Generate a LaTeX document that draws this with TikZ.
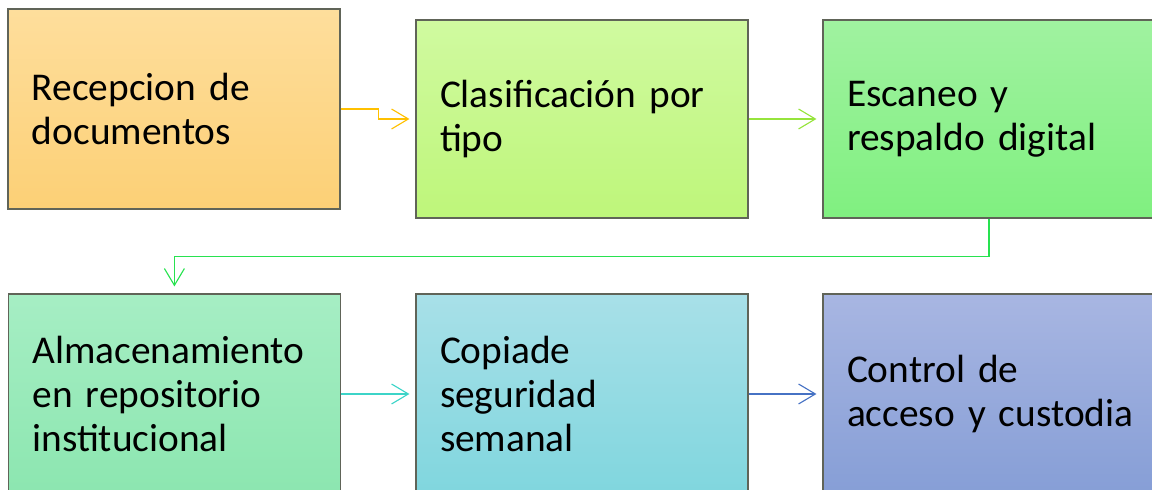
\documentclass[tikz,border=0pt]{standalone}
\usepackage{fontspec}
\setmainfont[WordSpace=0.85]{Carlito}
\definecolor{recpTop}{RGB}{254, 222, 156}
\definecolor{recpBot}{RGB}{252, 208, 118}
\definecolor{clasTop}{RGB}{208, 250, 160}
\definecolor{clasBot}{RGB}{190, 246, 122}
\definecolor{escTop}{RGB}{160, 242, 160}
\definecolor{escBot}{RGB}{128, 240, 128}
\definecolor{almTop}{RGB}{166, 238, 196}
\definecolor{almBot}{RGB}{140, 230, 176}
\definecolor{copTop}{RGB}{168, 224, 232}
\definecolor{copBot}{RGB}{128, 214, 222}
\definecolor{ctlTop}{RGB}{168, 182, 226}
\definecolor{ctlBot}{RGB}{134, 158, 214}
\definecolor{edgegray}{RGB}{96, 100, 88}
\definecolor{arrgold}{RGB}{255, 192, 0}
\definecolor{arrlime}{RGB}{150, 228, 60}
\definecolor{arrgreen}{RGB}{40, 226, 80}
\definecolor{arrteal}{RGB}{60, 212, 200}
\definecolor{arrblue}{RGB}{70, 114, 196}
\usetikzlibrary{arrows.meta, positioning, calc}

\begin{document}
\begin{tikzpicture}[
  blk/.style={draw=edgegray, line width=0.8pt, minimum width=8.3cm, minimum height=5cm,
              inner xsep=0.6cm, text width=7.1cm, align=left,
              font=\fontsize{28}{31.5}\selectfont},
  lnk/.style={-{Straight Barb[length=4.2mm, width=5mm]}, line width=0.8pt, shorten >=0.15cm},
]
\useasboundingbox (0,0) rectangle (28.8,12.25);
\clip (0,0) rectangle (28.8,12.25);

\node[blk, top color=recpTop, bottom color=recpBot] (recep) at (4.35,9.525) {Recepcion de\\documentos};
\node[blk, top color=clasTop, bottom color=clasBot, minimum height=4.95cm] (clasif) at (14.55,9.275) {Clasificación por\\tipo};
\node[blk, top color=escTop, bottom color=escBot, minimum height=4.95cm] (escan) at (24.725,9.275) {Escaneo y\\respaldo digital};

\node[blk, top color=almTop, bottom color=almBot] (almac) at (4.36,2.4) {Almacenamiento\\en repositorio\\institucional};
\node[blk, top color=copTop, bottom color=copBot] (copia) at (14.55,2.4) {Copiade\\seguridad\\semanal};
\node[blk, top color=ctlTop, bottom color=ctlBot] (ctrl) at (24.725,2.4) {Control de\\\mbox{acceso y custodia}};

\draw[lnk, arrgold] (recep.east) -- ++(0.95,0) |- (clasif.west);
\draw[lnk, arrlime] (clasif.east) -- (escan.west);
\draw[lnk, arrgreen, shorten >=0.175cm] (escan.south) -- ++(0,-0.95) -| (almac.north);
\draw[lnk, arrteal] (almac.east) -- (copia.west);
\draw[lnk, arrblue] (copia.east) -- (ctrl.west);
\end{tikzpicture}
\end{document}
